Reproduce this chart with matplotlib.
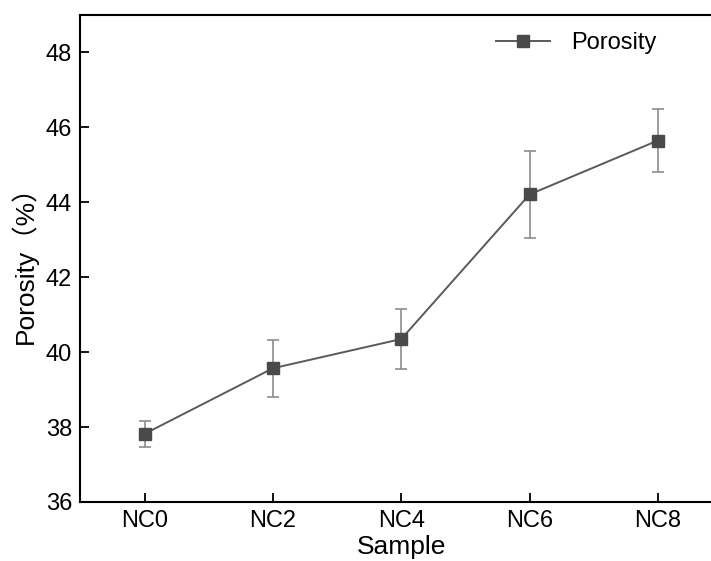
import numpy as np
import matplotlib.pyplot as plt

# porosity data
samples = ['NC0', 'NC2', 'NC4', 'NC6', 'NC8']
porosity = [37.82, 39.57, 40.35, 44.21, 45.65]
err = [0.35, 0.76, 0.80, 1.16, 0.83]

plt.rcParams['font.family'] = ['Liberation Sans', 'Noto Sans CJK SC', 'DejaVu Sans']

fig = plt.figure(figsize=(7.11, 5.61), dpi=100)
ax = fig.add_axes([0.1132, 0.1052, 0.9023, 0.868])

x = np.arange(len(samples))
ax.errorbar(x, porosity, yerr=err, fmt='none', ecolor='#8c8c8c', elinewidth=1.2,
            capsize=4, capthick=1.2, zorder=2)
ax.plot(x, porosity, color='#5a5a5a', linewidth=1.4, marker='s', markersize=8,
        markerfacecolor='#4a4a4a', markeredgecolor='#4a4a4a', label='Porosity', zorder=3)

ax.set_xlim(-0.5, 4.5)
ax.set_ylim(36, 49)
ax.set_xticks(x)
ax.set_xticklabels(samples)
ax.set_yticks(np.arange(36, 49, 2))

for s in ax.spines.values():
    s.set_linewidth(1.5)
ax.tick_params(direction='in', length=6.5, width=1.3, labelsize=17, pad=6)

ax.set_xlabel('Sample', fontsize=19, labelpad=2)
ax.set_ylabel('Porosity（%）', fontsize=19, labelpad=6)

leg = ax.legend(loc='upper left', bbox_to_anchor=(0.614, 1.008), frameon=False,
                fontsize=17, handlelength=2.3, handletextpad=0.9)

fig.savefig('out.png', dpi=100)
